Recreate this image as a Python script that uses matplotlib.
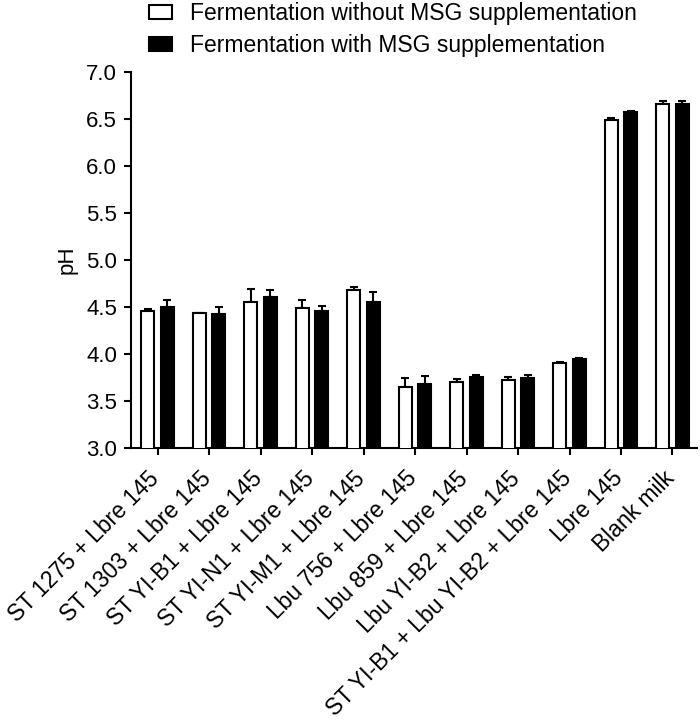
import numpy as np
import matplotlib
matplotlib.use("Agg")
import matplotlib.pyplot as plt
import matplotlib.transforms as mtransforms

# ================================
# DATA
# ================================
strains = [
    "ST 1275 + Lbre 145",
    "ST 1303 + Lbre 145",
    "ST YI-B1 + Lbre 145",
    "ST YI-N1 + Lbre 145",
    "ST YI-M1 + Lbre 145",
    "Lbu 756 + Lbre 145",
    "Lbu 859 + Lbre 145",
    "Lbu YI-B2 + Lbre 145",
    "ST YI-B1 + Lbu YI-B2 + Lbre 145",
    "Lbre 145",
    "Blank milk",
]
ph_without_msg = [4.46, 4.43, 4.55, 4.49, 4.68, 3.65, 3.70, 3.72, 3.90, 6.49, 6.66]
err_without_msg = [0.02, 0.01, 0.14, 0.08, 0.03, 0.09, 0.03, 0.03, 0.01, 0.015, 0.03]
ph_with_msg = [4.50, 4.42, 4.60, 4.46, 4.55, 3.68, 3.75, 3.74, 3.945, 6.57, 6.66]
err_with_msg = [0.07, 0.08, 0.08, 0.05, 0.11, 0.08, 0.03, 0.04, 0.01, 0.01, 0.03]

plt.rcParams["font.family"] = ["Liberation Sans", "DejaVu Sans"]
FS = 16

# ================================
# FIGURE
# ================================
fig = plt.figure(figsize=(7.0, 7.27), dpi=100)
ax = fig.add_axes([0.187, 0.384, 0.809, 0.517])

x = np.arange(len(strains))
w = 0.25
off = 0.19

ax.bar(x - off, ph_without_msg, width=w, color="white", edgecolor="black",
       linewidth=1.5, label="Fermentation without MSG supplementation", zorder=3)
ax.bar(x + off, ph_with_msg, width=w, color="black", edgecolor="black",
       linewidth=1.5, label="Fermentation with MSG supplementation", zorder=3)

ax.errorbar(x - off, ph_without_msg, yerr=[np.zeros(len(x)), err_without_msg],
            fmt="none", ecolor="black", elinewidth=1.5, capsize=3, capthick=1.5, zorder=2)
ax.errorbar(x + off, ph_with_msg, yerr=[np.zeros(len(x)), err_with_msg],
            fmt="none", ecolor="black", elinewidth=1.5, capsize=3, capthick=1.5, zorder=2)

ax.set_ylim(3.0, 7.0)
ax.set_xlim(-0.52, 10.48)
yt = np.arange(3.0, 7.01, 0.5)
ax.set_yticks(yt)
ax.set_yticklabels([f"{v:.1f}" for v in yt], fontsize=FS)
ax.set_xticks(x)
ax.set_xticklabels([])

# rotated category labels, placed at each tick and nudged down-left
trans = ax.get_xaxis_transform() + mtransforms.ScaledTranslation(
    -0.10, -0.19, fig.dpi_scale_trans)
for xi, name in zip(x, strains):
    ax.text(xi, 0, name, transform=trans, rotation=45, ha="right", va="top",
            rotation_mode="anchor", fontsize=16.5)

ax.set_ylabel("pH", fontsize=FS, labelpad=6)

for side in ["top", "right"]:
    ax.spines[side].set_visible(False)
for side in ["left", "bottom"]:
    ax.spines[side].set_linewidth(1.5)
ax.tick_params(axis="both", width=1.5, length=5, direction="out")
ax.tick_params(axis="y", pad=5)

fig.legend(loc="upper left", bbox_to_anchor=(0.2, 1.01), frameon=False,
           fontsize=16.5, handlelength=1.0, handleheight=0.6, handletextpad=0.8,
           labelspacing=0.4, borderaxespad=0)

fig.savefig("out.png", dpi=100)
